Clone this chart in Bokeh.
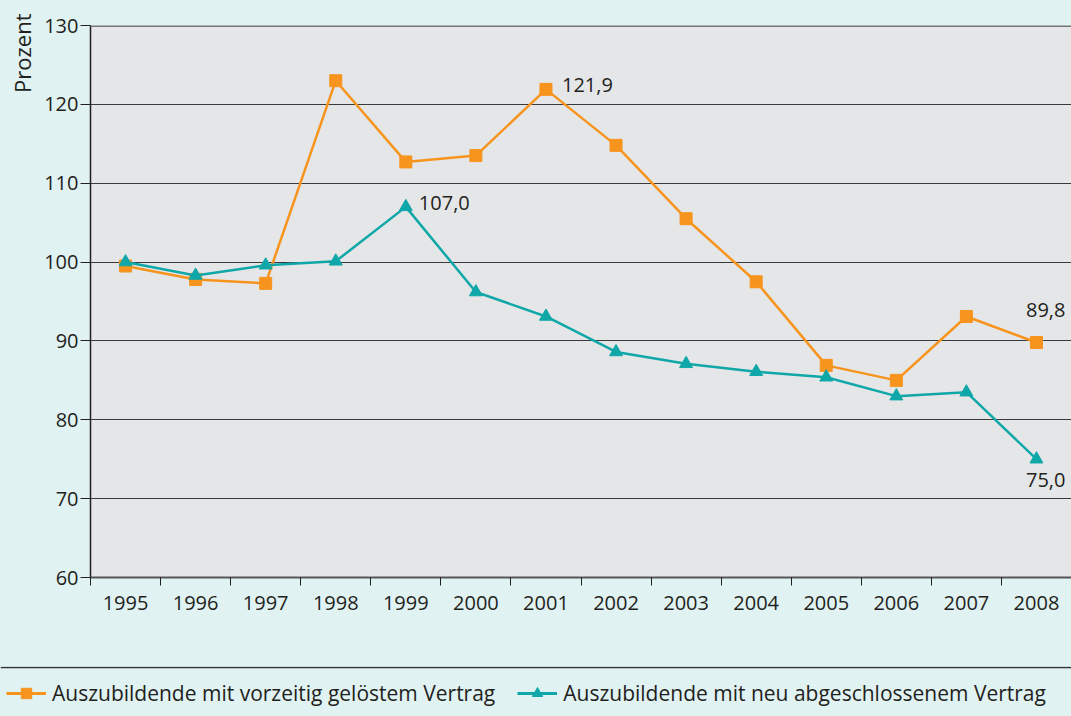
from bokeh.plotting import figure
from bokeh.models import (Range1d, FixedTicker, Span, Legend, LegendItem, Title,
                          ColumnDataSource, GlobalInlineStyleSheet)
from bokeh.embed import file_html
from bokeh.resources import INLINE
from bokeh.core.properties import value

# ---------------- data ----------------
years = ["1995", "1996", "1997", "1998", "1999", "2000", "2001",
         "2002", "2003", "2004", "2005", "2006", "2007", "2008"]
vorzeitig = [99.5, 97.8, 97.3, 123.0, 112.7, 113.5, 121.9,
             114.8, 105.5, 97.5, 86.9, 85.0, 93.1, 89.8]
neu = [100.0, 98.3, 99.6, 100.1, 107.0, 96.2, 93.1,
       88.6, 87.1, 86.1, 85.4, 83.0, 83.5, 75.0]
y_ticks = [60, 70, 80, 90, 100, 110, 120, 130]
name_vorzeitig = "Auszubildende mit vorzeitig gelöstem Vertrag"
name_neu = "Auszubildende mit neu abgeschlossenem Vertrag"
y_label = "Prozent"

# ---------------- style ----------------
ORANGE = "#f7941d"
TEAL = "#0fa7a8"
PAGE_BG = "#e0f2f2"
PLOT_BG = "#e5e6e8"
INK = "#231f20"
GRID = "#3a3a3a"
FONT = "Open Sans"

W, H_MAIN, H_LEG = 1071, 666, 50

def fmt(v):
    return f"{v:.1f}".replace(".", ",")

xs = list(range(len(years)))
src = ColumnDataSource(dict(x=xs, vorzeitig=vorzeitig, neu=neu))

page_css = GlobalInlineStyleSheet(
    css="html, body { margin: 0; padding: 0; background: #e0f2f2; overflow: hidden; }")

p = figure(width=W, height=H_MAIN, output_backend="svg", toolbar_location=None,
           x_range=Range1d(-0.5, len(years) - 0.5), y_range=Range1d(y_ticks[0], y_ticks[-1]),
           min_border_left=90, min_border_right=0, min_border_top=25, min_border_bottom=89,
           background_fill_color=PLOT_BG, border_fill_color=PAGE_BG,
           outline_line_color=None, stylesheets=[page_css])

# y axis
yax = p.yaxis[0]
yax.ticker = FixedTicker(ticks=y_ticks)
yax.major_tick_out = 10
yax.major_tick_in = 0
yax.minor_tick_line_color = None
yax.major_tick_line_color = INK
yax.axis_line_color = INK
yax.axis_line_width = 1.5
yax.major_label_standoff = 2
yax.major_label_text_font = FONT
yax.major_label_text_font_size = "20px"
yax.major_label_text_color = INK

# x axis: labels at centres, ticks at boundaries
xax = p.xaxis[0]
xax.ticker = FixedTicker(ticks=xs, minor_ticks=[i - 0.5 for i in range(len(years) + 1)])
xax.major_label_overrides = {i: y for i, y in zip(xs, years)}
xax.major_tick_line_color = None
xax.major_tick_out = 0
xax.major_tick_in = 0
xax.minor_tick_out = 8
xax.minor_tick_in = 0
xax.minor_tick_line_color = INK
xax.axis_line_color = "#555555"
xax.axis_line_width = 2
xax.major_label_standoff = 10
xax.major_label_text_font = FONT
xax.major_label_text_font_size = "20px"
xax.major_label_text_color = INK

p.xgrid.visible = False
p.ygrid.ticker = FixedTicker(ticks=y_ticks[1:-1])
p.ygrid.grid_line_color = GRID
p.ygrid.grid_line_width = 1.2

p.add_layout(Span(location=y_ticks[-1], dimension="width", line_color="#777777", line_width=3))

# y label at the top of the left side
p.add_layout(Title(text=y_label, align="right", offset=-12, text_font=FONT,
                   text_font_size="22px", text_font_style="normal",
                   text_color=INK, standoff=9), "left")

# series
p.line("x", "vorzeitig", source=src, line_color=ORANGE, line_width=2.5)
p.scatter("x", "vorzeitig", source=src, marker="square", size=12,
          fill_color=ORANGE, line_color=ORANGE)
p.line("x", "neu", source=src, line_color=TEAL, line_width=2.5)
p.scatter("x", "neu", source=src, marker="triangle", size=13,
          fill_color=TEAL, line_color=TEAL)

# value annotations
def annotate(i, vals, dx, dy, align):
    p.text(x=[xs[i]], y=[vals[i]], text=[fmt(vals[i])], x_offset=dx, y_offset=dy,
           text_align=align, text_baseline="middle", text_font=value(FONT),
           text_font_size="20px", text_color=INK)

annotate(6, vorzeitig, 16, -4, "left")
annotate(4, neu, 13, -4, "left")
annotate(13, vorzeitig, 29, -33, "right")
annotate(13, neu, 29, 21, "right")

# ---------------- legend strip (separate root, full width) ----------------
leg = figure(width=W, height=H_LEG, output_backend="svg", toolbar_location=None,
             x_range=Range1d(0, 1), y_range=Range1d(0, 1),
             x_axis_type=None, y_axis_type=None,
             min_border=0, min_border_left=0, min_border_right=0,
             min_border_top=0, min_border_bottom=0,
             background_fill_color=PAGE_BG, border_fill_color=PAGE_BG,
             outline_line_color=None, stylesheets=[page_css])
leg.grid.visible = False
leg.add_layout(Span(location=0.98, dimension="width", line_color="#333333", line_width=1.5))

# legend proxies (kept outside the visible range)
l1 = leg.line([-5, -4], [-5, -4], line_color=ORANGE, line_width=3)
m1 = leg.scatter([-5], [-5], marker="square", size=10, fill_color=ORANGE, line_color=ORANGE)
l2 = leg.line([-5, -4], [-5, -4], line_color=TEAL, line_width=3)
m2 = leg.scatter([-5], [-5], marker="triangle", size=11, fill_color=TEAL, line_color=TEAL)

legend = Legend(items=[LegendItem(label=name_vorzeitig, renderers=[l1, m1]),
                       LegendItem(label=name_neu, renderers=[l2, m2])],
                orientation="horizontal", location=(6, 9),
                glyph_width=40, glyph_height=26, label_height=28,
                label_standoff=6, spacing=22, padding=0, margin=0,
                label_text_font=FONT, label_text_font_size="21px",
                label_text_color=INK, background_fill_alpha=0,
                border_line_color=None)
leg.add_layout(legend, "center")

open("out.html", "w").write(file_html([p, leg], INLINE))
